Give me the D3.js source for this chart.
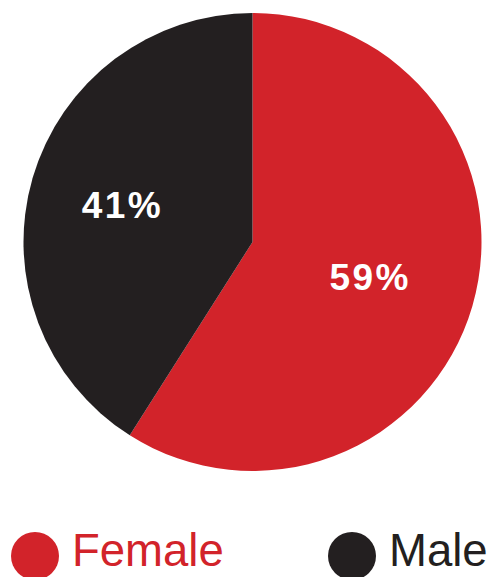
<!DOCTYPE html>
<html>
<head>
<meta charset="utf-8">
<script src="https://cdn.jsdelivr.net/npm/d3@7"></script>
<style>
  html, body { margin: 0; padding: 0; background: #fff; }
  svg { display: block; }
</style>
</head>
<body>
<svg id="chart" width="500" height="577"></svg>
<script>
const categories = ["Female", "Male"];
const values = [59, 41];
const labels = ["59%", "41%"];

const colors = { Female: "#d2232a", Male: "#231f20" };
const labelRadius = { Female: 121, Male: 137 };

const svg = d3.select("#chart");
const cx = 252.5, cy = 242, r = 229;

const data = categories.map((c, i) => ({ cat: c, value: values[i], label: labels[i] }));

const pie = d3.pie().value(d => d.value).sort(null);
const arcs = pie(data);
const arc = d3.arc().innerRadius(0).outerRadius(r);

const g = svg.append("g").attr("transform", `translate(${cx},${cy})`);

g.selectAll("path.slice")
  .data(arcs)
  .join("path")
  .attr("class", "slice")
  .attr("d", arc)
  .attr("fill", d => colors[d.data.cat]);

arcs.forEach(d => {
  const lr = labelRadius[d.data.cat];
  const a = (d.startAngle + d.endAngle) / 2;
  const x = lr * Math.sin(a) + 1.5;
  const y = -lr * Math.cos(a);
  g.append("text")
    .attr("class", "lbl")
    .attr("x", x)
    .attr("y", y + 14)
    .attr("text-anchor", "middle")
    .style("fill", "#ffffff")
    .style("font-family", "'Liberation Sans', Arial, Helvetica, sans-serif")
    .style("font-weight", "bold")
    .style("font-size", "37px")
    .style("letter-spacing", "2.5px")
    .text(d.data.label);
});

// Legend
const legendX = [35, 352];
const legend = svg.selectAll("g.leg")
  .data(data)
  .join("g")
  .attr("class", "leg")
  .attr("transform", (d, i) => `translate(${legendX[i]},556)`);

legend.append("circle")
  .attr("r", 24)
  .attr("fill", d => colors[d.cat]);

legend.append("text")
  .attr("x", 37)
  .attr("y", 10)
  .style("font-family", "'Liberation Sans', Arial, Helvetica, sans-serif")
  .style("font-size", "45.5px")
  .style("fill", d => colors[d.cat])
  .text(d => d.cat);
</script>
</body>
</html>
